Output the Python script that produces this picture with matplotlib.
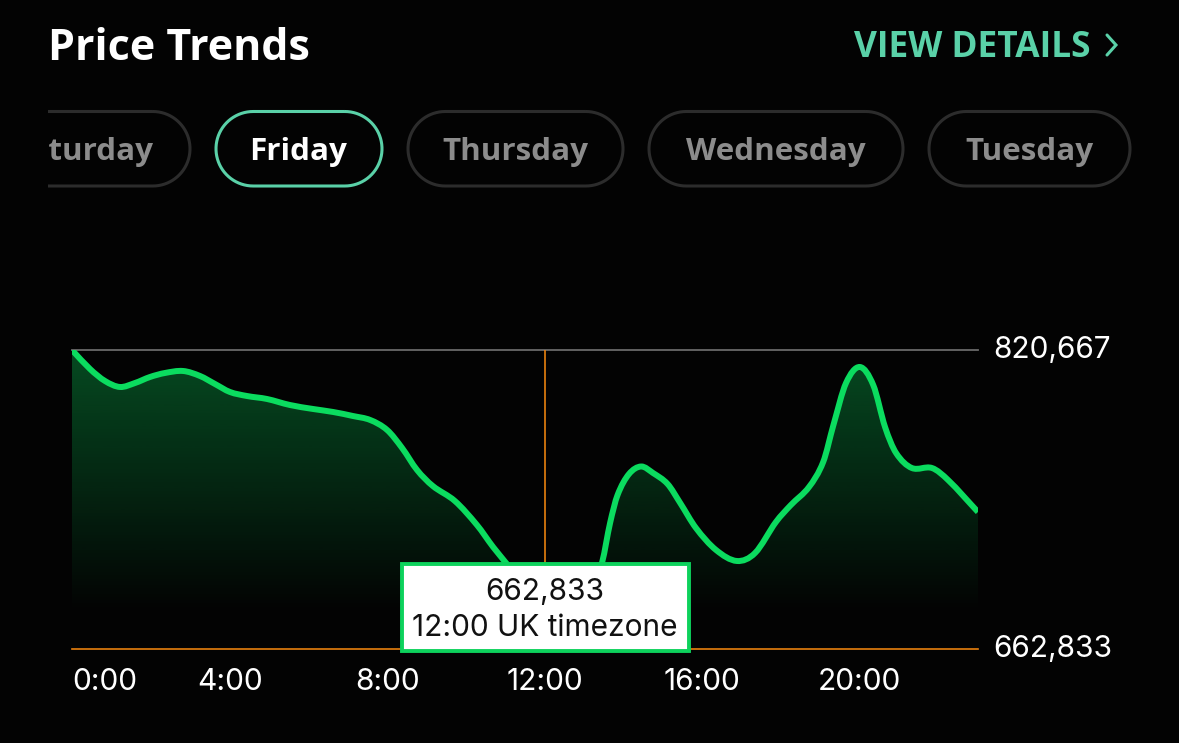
import numpy as np
import matplotlib
matplotlib.use("Agg")
import matplotlib.pyplot as plt
from matplotlib.path import Path
from matplotlib.patches import PathPatch, Rectangle
from matplotlib.transforms import ScaledTranslation

# ---- data ----
hours = [0, .457, .838, 1.219, 1.6, 1.98, 2.36, 2.82, 3.25, 3.63, 4.01, 4.44, 4.95, 5.53, 6.12,
         6.63, 7.13, 7.57, 8.0, 8.38, 8.76, 9.16, 9.72, 10.28, 10.69, 11.04, 11.5, 11.75, 12,
         12.77, 13.15, 13.46, 13.66, 13.85, 14.14, 14.45, 14.75, 15.12, 15.44, 15.84, 16.35,
         16.88, 17.34, 17.87, 18.25, 18.71, 19.07, 19.33, 19.65, 20.0, 20.34, 20.64, 20.92,
         21.32, 21.83, 22.24, 23]
prices = [820667, 810645, 804310, 801143, 803254, 806422, 808534, 809589, 806950, 802727,
          798503, 796392, 794808, 791641, 789529, 787945, 785834, 783722, 778443, 768941,
          757327, 748881, 740962, 728293, 716679, 707704, 695035, 678142, 662833,
          672863, 688700, 708760, 729348, 744130, 755216, 759175, 755743, 749937, 739906,
          726709, 715095, 709288, 713511, 729876, 738851, 748353, 761550, 781083, 803254,
          811701, 802199, 780027, 766301, 758383, 758383, 752048, 735155]
y_ticks = [662833, 820667]
y_tick_labels = ["662,833", "820,667"]
x_ticks = [0, 4, 8, 12, 16, 20]
x_tick_labels = ["0:00", "4:00", "8:00", "12:00", "16:00", "20:00"]
days = ["Saturday", "Friday", "Thursday", "Wednesday", "Tuesday"]
title = "Price Trends"
link = "VIEW DETAILS"
tooltip = ["662,833", "12:00 UK timezone"]
selected_hour = 12

W, H = 1179, 743
BG = "#030303"
GREEN = "#0bdc5f"
TEAL = "#5ad1a8"
ORANGE = "#e8800f"
UI_FONT = "Open Sans"
LABEL_FONT = "Inter"

fig = plt.figure(figsize=(W / 100, H / 100), dpi=100, facecolor=BG)

def px_axes(l, t, r, b, **kw):
    return fig.add_axes([l / W, 1 - b / H, (r - l) / W, (b - t) / H], **kw)

ax = px_axes(72, 350, 978, 649, facecolor=BG)
ax.set_xlim(0, 23)
ax.set_ylim(y_ticks[0], y_ticks[1])
for s in ax.spines.values():
    s.set_visible(False)

# smooth curve through the read points
x = np.array(hours, float)
y = np.array(prices, float)
m = np.zeros_like(y)
m[1:-1] = (y[2:] - y[:-2]) / (x[2:] - x[:-2])
m[0] = (y[1] - y[0]) / (x[1] - x[0])
m[-1] = (y[-1] - y[-2]) / (x[-1] - x[-2])
verts = [(x[0], y[0])]
codes = [Path.MOVETO]
for i in range(len(x) - 1):
    d = (x[i + 1] - x[i]) / 3
    verts += [(x[i] + d, y[i] + m[i] * d), (x[i + 1] - d, y[i + 1] - m[i + 1] * d), (x[i + 1], y[i + 1])]
    codes += [Path.CURVE4] * 3
line_path = Path(verts, codes)
fill_path = Path(verts + [(x[-1], y_ticks[0]), (x[0], y_ticks[0]), (x[0], y[0])],
                 codes + [Path.LINETO, Path.LINETO, Path.LINETO])

# gradient under the curve
n = 256
grad = np.zeros((n, 1, 4))
grad[..., 0] = 11 / 255
grad[..., 1] = 220 / 255
grad[..., 2] = 95 / 255
grad[..., 3] = (0.33 * np.clip(1 - np.linspace(0, 1, n) / 0.88, 0, 1))[:, None]
im = ax.imshow(grad, extent=(0, 23, y_ticks[0], y_ticks[1]), aspect="auto", origin="upper", zorder=1)
clip = PathPatch(fill_path, transform=ax.transData, fc="none", ec="none")
ax.add_patch(clip)
im.set_clip_path(clip)

ax.axhline(y_ticks[1], color="#6a6a6a", lw=1.3, zorder=2, clip_on=False)
ax.axhline(y_ticks[0], color=ORANGE, lw=1.2, zorder=2, clip_on=False)
ax.axvline(selected_hour, color=ORANGE, lw=1.2, zorder=2)
ax.add_patch(PathPatch(line_path, fc="none", ec=GREEN, lw=4.3, zorder=3, capstyle="butt", joinstyle="round"))

ax.set_xticks(x_ticks)
ax.set_xticklabels(x_tick_labels, fontfamily=LABEL_FONT, fontsize=21.5, color="white")
ax.get_xticklabels()[0].set_horizontalalignment("left")
ax.yaxis.tick_right()
ax.set_yticks(y_ticks)
ax.set_yticklabels(y_tick_labels, fontfamily=LABEL_FONT, fontsize=21.5, color="white")
ax.tick_params(axis="x", length=0, pad=14)
ax.tick_params(axis="y", length=0, pad=11)
up = ScaledTranslation(0, 3 / 100, fig.dpi_scale_trans)
for lab in ax.get_yticklabels():
    lab.set_transform(lab.get_transform() + up)

# ---- interface parts, in pixel coordinates ----
ui = fig.add_axes([0, 0, 1, 1], facecolor="none")
ui.set_xlim(0, W)
ui.set_ylim(H, 0)
ui.axis("off")

ui.text(48, 48, title, color="white", fontsize=31, fontweight="bold", family=UI_FONT, va="center", ha="left")
ui.text(1091, 48, link, color=TEAL, fontsize=25.4, fontweight="bold", family=UI_FONT, va="center", ha="right")
ui.plot([1107, 1116, 1107], [35, 45, 55], color=TEAL, lw=2.2, solid_capstyle="round", solid_joinstyle="miter")

def pill(a, b, top=111.5, bottom=186):
    r = (bottom - top) / 2
    t = np.linspace(-np.pi / 2, np.pi / 2, 40)
    xs = np.r_[b - r + r * np.cos(t), a + r - r * np.cos(t[::-1] * -1)]
    ys = np.r_[top + r + r * np.sin(t), top + r - r * np.sin(t)]
    return Path(np.c_[np.r_[xs, xs[0]], np.r_[ys, ys[0]]])

pills = [(-10, 190), (216, 382), (408, 623), (649, 903), (929, 1130)]
label_x = [153, 298.5, 515, 775.5, 1029.5]
label_ha = ["right", "center", "center", "center", "center"]
clip_rect = Rectangle((48, 100), 1090, 100, transform=ui.transData)
for day, (a, b), lx, ha in zip(days, pills, label_x, label_ha):
    sel = day == "Friday"
    p = PathPatch(pill(a, b), fc="none", ec=TEAL if sel else "#2c2c2c", lw=2.2)
    ui.add_patch(p)
    p.set_clip_path(clip_rect)
    t = ui.text(lx, 152, day, color="white" if sel else "#8c8c8c", fontsize=22.6, fontweight="bold",
                family=UI_FONT, ha=ha, va="center", clip_on=True)
    t.set_clip_path(clip_rect)

ui.add_patch(Rectangle((401.5, 564), 287.5, 86.5, fc="white", ec="#0dd25c", lw=2.8, zorder=5))
ui.text(545, 592, tooltip[0], color="#111111", fontsize=21.5, family=LABEL_FONT, ha="center", va="center", zorder=6)
ui.text(545, 628, tooltip[1], color="#111111", fontsize=21.5, family=LABEL_FONT, ha="center", va="center", zorder=6)

fig.savefig("out.png", dpi=100, facecolor=BG)
